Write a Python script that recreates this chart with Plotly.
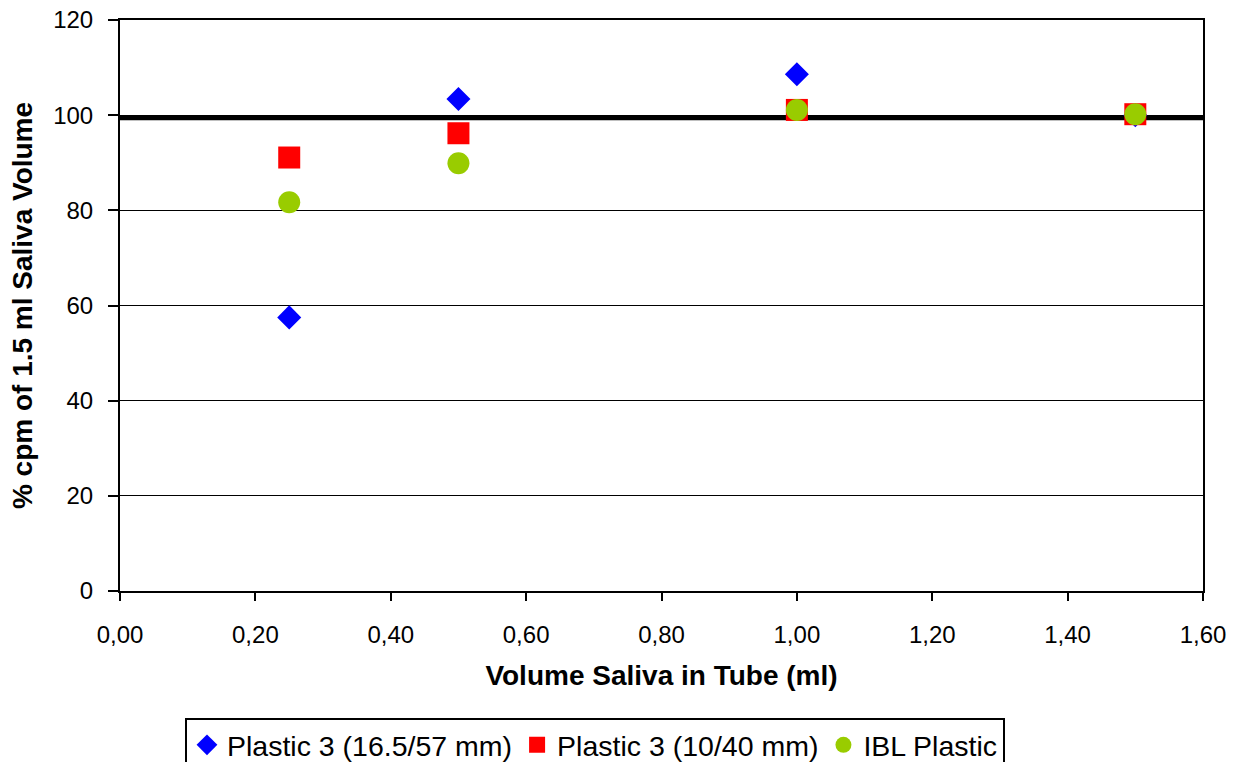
import plotly.graph_objects as go

x_vals = [0.25, 0.5, 1.0, 1.5]
plastic_16 = [57.5, 103.4, 108.6, 100.0]
plastic_10 = [91.1, 96.2, 101.1, 100.2]
ibl_plastic = [81.7, 89.9, 101.1, 100.2]
ref_level = [99.4]
series_names = ["Plastic 3 (16.5/57 mm)", "Plastic 3 (10/40 mm)", "IBL Plastic"]

font = "Liberation Sans, Arial, sans-serif"
fig = go.Figure()
fig.add_trace(go.Scatter(x=x_vals, y=plastic_16, mode="markers", name=series_names[0],
                         marker=dict(symbol="diamond", size=18.5, color="#0000FF", line=dict(width=0))))
fig.add_trace(go.Scatter(x=x_vals, y=plastic_10, mode="markers", name=series_names[1],
                         marker=dict(symbol="square", size=22, color="#FF0000", line=dict(width=0))))
fig.add_trace(go.Scatter(x=x_vals, y=ibl_plastic, mode="markers", name=series_names[2],
                         marker=dict(symbol="circle", size=22, color="#99CC00", line=dict(width=0))))

fig.add_shape(type="line", xref="paper", x0=0, x1=1, yref="y", y0=ref_level[0], y1=ref_level[0],
              line=dict(color="black", width=4.5), layer="below")

fig.update_layout(
    width=1241, height=762,
    margin=dict(l=120, r=38, t=20, b=171, autoexpand=False),
    paper_bgcolor="white", plot_bgcolor="white",
    separators=",.",
    font=dict(family=font, size=24, color="black"),
    showlegend=True,
    legend=dict(orientation="h", x=0.06, xanchor="left", y=-0.222, yanchor="top",
                bordercolor="black", borderwidth=2, font=dict(size=28.5),
                itemsizing="trace", tracegroupgap=0),
)
fig.update_xaxes(range=[0, 1.6], dtick=0.2, tickformat=".2f", showgrid=False,
                 showline=True, linecolor="black", linewidth=2, mirror=True, ticks="outside",
                 ticklen=8, tickwidth=1.5, tickcolor="black", zeroline=False,
                 ticklabelstandoff=13,
                 title=dict(text="<b>Volume Saliva in Tube (ml)</b>", font=dict(size=28), standoff=19))
fig.update_yaxes(range=[0, 120], dtick=20, showgrid=True, gridcolor="black", gridwidth=1,
                 showline=True, linecolor="black", linewidth=2, mirror=True, ticks="outside",
                 ticklen=10, tickwidth=1.5, tickcolor="black", zeroline=False,
                 ticklabelstandoff=10,
                 title=dict(text="<b>% cpm of 1.5 ml Saliva Volume</b>", font=dict(size=28), standoff=12))

fig.write_html("out.html")
